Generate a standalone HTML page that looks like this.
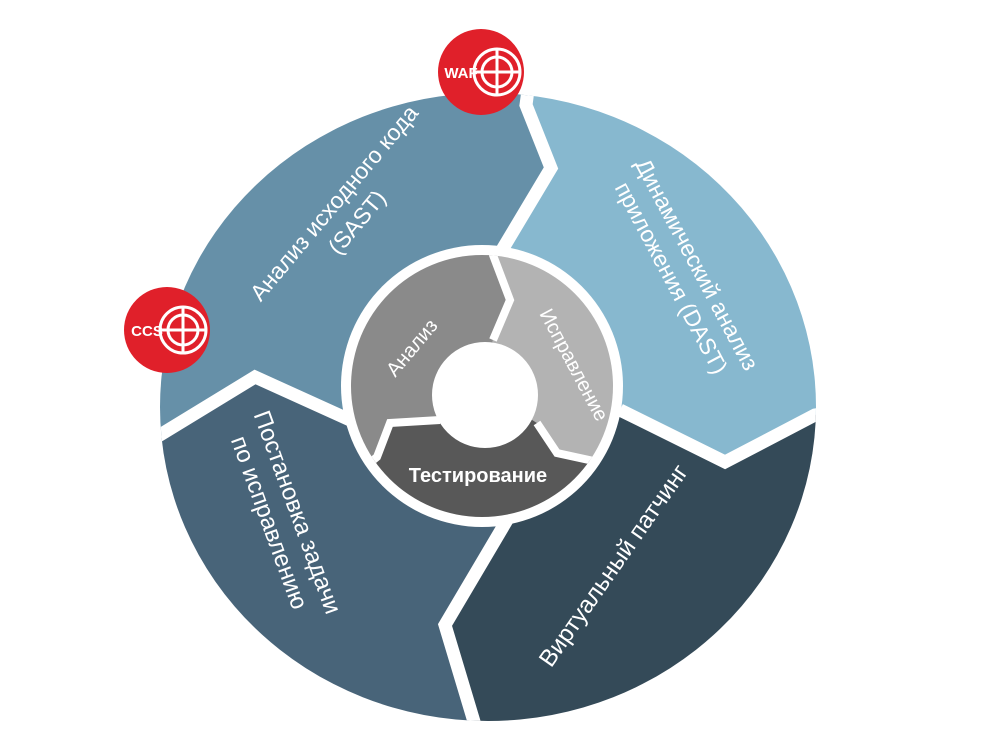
<!DOCTYPE html>
<html><head><meta charset="utf-8"><style>
html,body{margin:0;padding:0;background:#fff;}
svg{display:block;}
text{font-family:"Liberation Sans","DejaVu Sans",sans-serif;fill:#fff;}
</style></head><body>
<svg width="1000" height="745" viewBox="0 0 1000 745" xmlns="http://www.w3.org/2000/svg">
<defs>
<clipPath id="big"><ellipse cx="488" cy="407" rx="328" ry="314"/></clipPath>
<clipPath id="ring"><circle cx="482" cy="386" r="131"/></clipPath>
</defs>
<g clip-path="url(#big)">
<polygon fill="#6690a8" points="488,395 350,420 255,377 160,435 0,520 0,0 540,0 526,105 551,168 490,270"/>
<polygon fill="#87b8cf" points="488,395 490,270 551,168 526,105 540,0 1000,0 1000,380 815,415 725,462 620,410"/>
<polygon fill="#344a58" points="488,395 620,410 725,462 815,415 1000,380 1000,745 490,745 475,725 445,625 510,515"/>
<polygon fill="#486479" points="488,395 510,515 445,625 475,725 490,745 0,745 0,520 160,435 255,377 350,420"/>
<g fill="none" stroke="#fff" stroke-width="13" stroke-linejoin="miter">
<polyline points="540,0 526,105 551,168 490,270"/>
<polyline points="620,410 725,462 815,415 1000,380"/>
<polyline points="510,515 445,625 475,725 490,745"/>
<polyline points="350,420 255,377 160,435 0,520"/>
</g>
</g>
<circle cx="482" cy="386" r="141" fill="#fff"/>
<g clip-path="url(#ring)">
<polygon fill="#8a8a8a" points="482,388 440,420 390,423 377,457 300,520 250,250 490,150 493,255 510,300 493,340"/>
<polygon fill="#b3b3b3" points="482,388 493,340 510,300 493,255 490,150 700,250 700,470 603,463 557,453 537,423"/>
<polygon fill="#585858" points="482,388 537,423 557,453 603,463 700,470 650,600 300,600 300,520 377,457 390,423 440,420"/>
<g fill="none" stroke="#fff" stroke-width="8">
<polyline points="493,340 510,300 493,255 490,200"/>
<polyline points="537,423 557,453 603,463 700,470"/>
<polyline points="440,420 390,423 377,457 300,520"/>
</g>
</g>
<circle cx="485" cy="395" r="53" fill="#fff"/>

<text transform="translate(417,352) rotate(-50)" font-size="20" text-anchor="middle">Анализ</text>
<text transform="translate(568,368) rotate(62)" font-size="20" text-anchor="middle">Исправление</text>
<text x="478" y="482" font-size="20" font-weight="bold" text-anchor="middle" fill="#f0f0f0">Тестирование</text>

<g transform="translate(340,208) rotate(-50)" font-size="23" text-anchor="middle">
<text x="0" y="0">Анализ исходного кода</text><text x="0" y="30">(SAST)</text></g>
<g transform="translate(690,268) rotate(62)" font-size="23" text-anchor="middle">
<text x="0" y="0">Динамический анализ</text><text x="0" y="29">приложения (DAST)</text></g>
<g transform="translate(290,515) rotate(70)" font-size="24" text-anchor="middle">
<text x="0" y="0">Постановка задачи</text><text x="0" y="30">по исправлению</text></g>
<text transform="translate(620,570) rotate(-55)" font-size="24" text-anchor="middle">Виртуальный патчинг</text>

<g transform="translate(481,72)">
<circle r="43" fill="#e0202a"/>
<text x="-20" y="6" font-size="15" font-weight="bold" text-anchor="middle">WAF</text>
<g fill="none" stroke="#fff" stroke-width="3"><circle cx="16" cy="0" r="23"/><circle cx="16" cy="0" r="15"/>
<line x1="-6" y1="0" x2="38" y2="0"/><line x1="16" y1="-24" x2="16" y2="24"/></g>
</g>
<g transform="translate(167,330)">
<circle r="43" fill="#e0202a"/>
<text x="-20" y="6" font-size="15" font-weight="bold" text-anchor="middle">CCS</text>
<g fill="none" stroke="#fff" stroke-width="3"><circle cx="16" cy="0" r="23"/><circle cx="16" cy="0" r="15"/>
<line x1="-6" y1="0" x2="38" y2="0"/><line x1="16" y1="-24" x2="16" y2="24"/></g>
</g>
</svg>
</body></html>
